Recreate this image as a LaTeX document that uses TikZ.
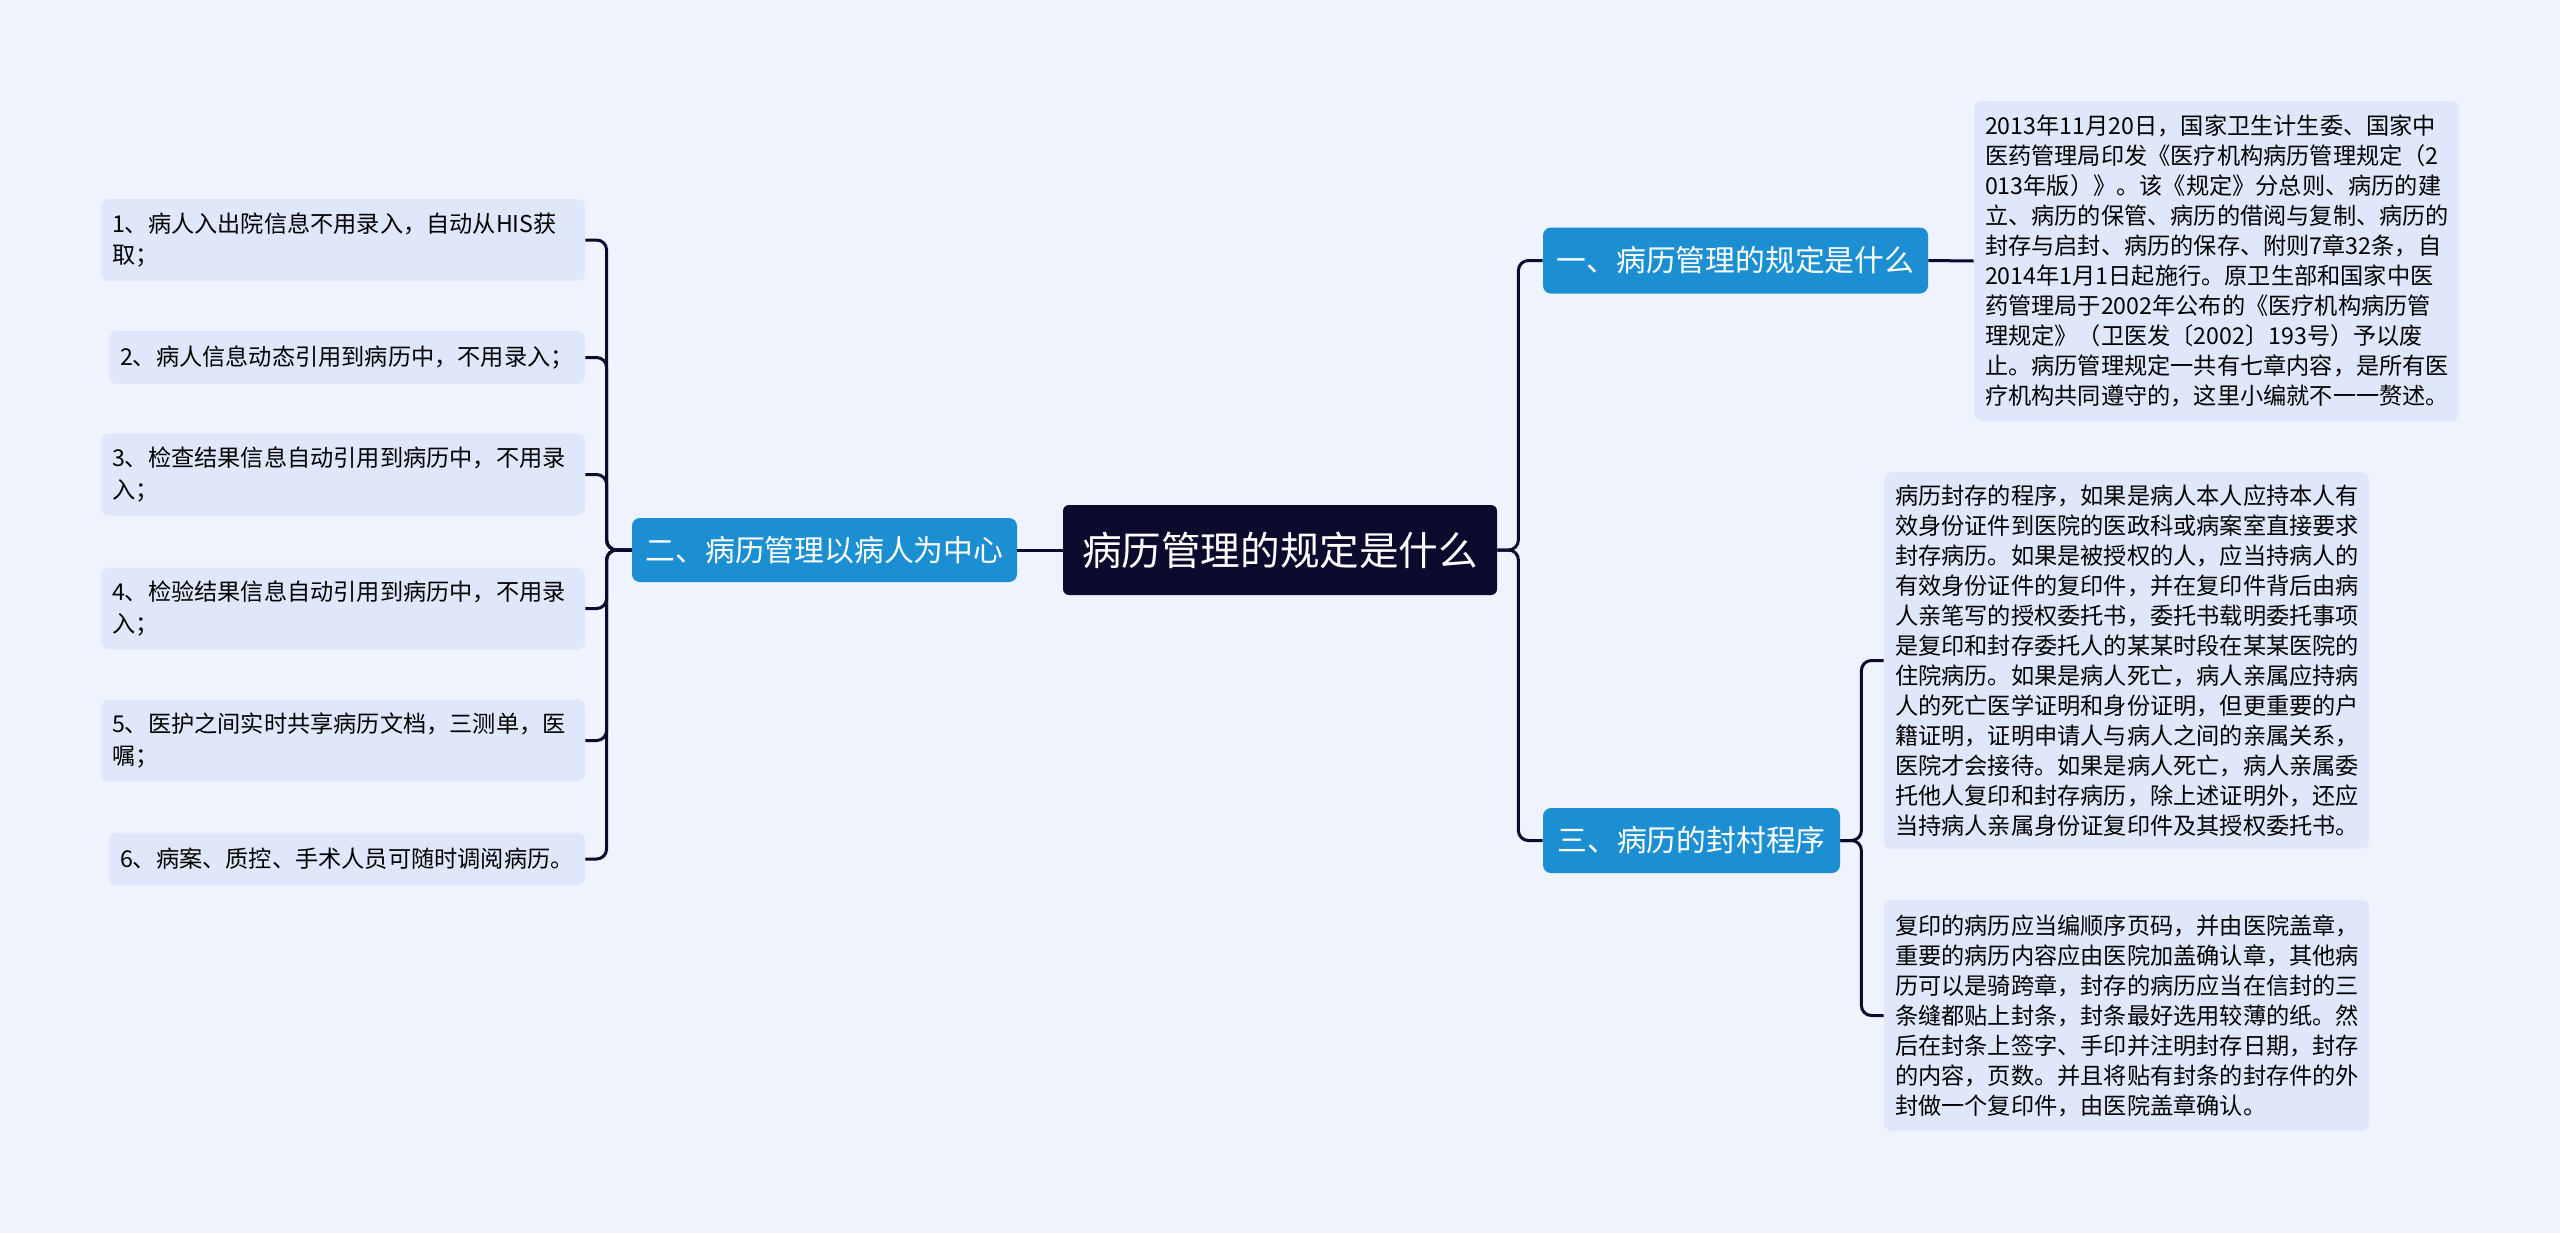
\documentclass[tikz,border=0pt]{standalone}
\usepackage{fontspec}
\setmainfont{Noto Sans CJK SC}
\usetikzlibrary{positioning}
\definecolor{paper}{HTML}{EEF3FD}
\definecolor{card}{HTML}{DFE8FA}
\definecolor{navy}{HTML}{0C0A2D}
\definecolor{sky}{HTML}{1B8FD2}
\tikzset{root/.style={fill=navy,text=white,rounded corners=3pt,minimum width=217pt,minimum height=45pt,inner sep=0pt,font=\fontsize{19.8}{24}\selectfont},
  topic/.style={fill=sky,text=white,rounded corners=4pt,minimum height=33pt,inner sep=0pt,font=\fontsize{14.9}{18}\selectfont},
  leaf/.style={fill=card,rounded corners=4pt,inner xsep=5.5pt,inner ysep=0pt,align=left,font=\fontsize{11.6}{16}\selectfont},
  note/.style={leaf,text width=231.5pt,font=\fontsize{11.6}{15}\selectfont},
  link/.style={draw=navy,line width=1.5pt,rounded corners=5pt}}

\begin{document}
\begin{tikzpicture}[x=0.5pt,y=-0.5pt]
\fill[paper] (0,0) rectangle (2560,1233);
\node[root] (root) at (1280,550) {病历管理的规定是什么};
% main topics
\node[topic,minimum width=192.5pt] (t1) at (1735.5,260.5) {一、病历管理的规定是什么};
\node[topic,minimum width=192.5pt,minimum height=32pt] (t2) at (824.5,550) {二、病历管理以病人为中心};
\node[topic,minimum width=148.5pt,minimum height=32.5pt] (t3) at (1691.5,840.5) {三、病历的封村程序};
% left leaves
\node[leaf,text width=231pt,minimum height=41pt] (l1) at (343,240) {1、病人入出院信息不用录入，自动从HIS获\\取；};
\node[leaf,text width=227pt,minimum height=26.5pt] (l2) at (347,357.5) {2、病人信息动态引用到病历中，不用录入；};
\node[leaf,text width=231pt,minimum height=41pt] (l3) at (343,474.5) {3、检查结果信息自动引用到病历中，不用录\\入；};
\node[leaf,text width=231pt,minimum height=41pt] (l4) at (343,608.5) {4、检验结果信息自动引用到病历中，不用录\\入；};
\node[leaf,text width=231pt,minimum height=41pt] (l5) at (343,740.5) {5、医护之间实时共享病历文档，三测单，医\\嘱；};
\node[leaf,text width=227pt,minimum height=26.5pt] (l6) at (347,859) {6、病案、质控、手术人员可随时调阅病历。};
% right notes
\node[note,minimum height=160pt] (n1) at (2216.5,261) {2013年11月20日，国家卫生计生委、国家中\\医药管理局印发《医疗机构病历管理规定（2\\013年版）》。该《规定》分总则、病历的建\\立、病历的保管、病历的借阅与复制、病历的\\封存与启封、病历的保存、附则7章32条，自\\2014年1月1日起施行。原卫生部和国家中医\\药管理局于2002年公布的《医疗机构病历管\\理规定》（卫医发〔2002〕193号）予以废\\止。病历管理规定一共有七章内容，是所有医\\疗机构共同遵守的，这里小编就不一一赘述。};
\node[note,minimum height=188.5pt] (n2) at (2126.5,660.5) {病历封存的程序，如果是病人本人应持本人有\\效身份证件到医院的医政科或病案室直接要求\\封存病历。如果是被授权的人，应当持病人的\\有效身份证件的复印件，并在复印件背后由病\\人亲笔写的授权委托书，委托书载明委托事项\\是复印和封存委托人的某某时段在某某医院的\\住院病历。如果是病人死亡，病人亲属应持病\\人的死亡医学证明和身份证明，但更重要的户\\籍证明，证明申请人与病人之间的亲属关系，\\医院才会接待。如果是病人死亡，病人亲属委\\托他人复印和封存病历，除上述证明外，还应\\当持病人亲属身份证复印件及其授权委托书。};
\node[note,minimum height=115.5pt] (n3) at (2126.5,1015.5) {复印的病历应当编顺序页码，并由医院盖章，\\重要的病历内容应由医院加盖确认章，其他病\\历可以是骑跨章，封存的病历应当在信封的三\\条缝都贴上封条，封条最好选用较薄的纸。然\\后在封条上签字、手印并注明封存日期，封存\\的内容，页数。并且将贴有封条的封存件的外\\封做一个复印件，由医院盖章确认。};
% connectors
\draw[link] (t2.east) -- (root.west);
\foreach \n in {l1,l2,l3,l4,l5,l6}{\draw[link] (t2.west) -- ++(-25,0) |- (\n.east);}
\foreach \n in {t1,t3}{\draw[link] (root.east) -- ++(21,0) |- (\n.west);}
\draw[link] (t1.east) -- (n1.west);
\foreach \n in {n2,n3}{\draw[link] (t3.east) -- ++(21,0) |- (\n.west);}
\end{tikzpicture}
\end{document}
